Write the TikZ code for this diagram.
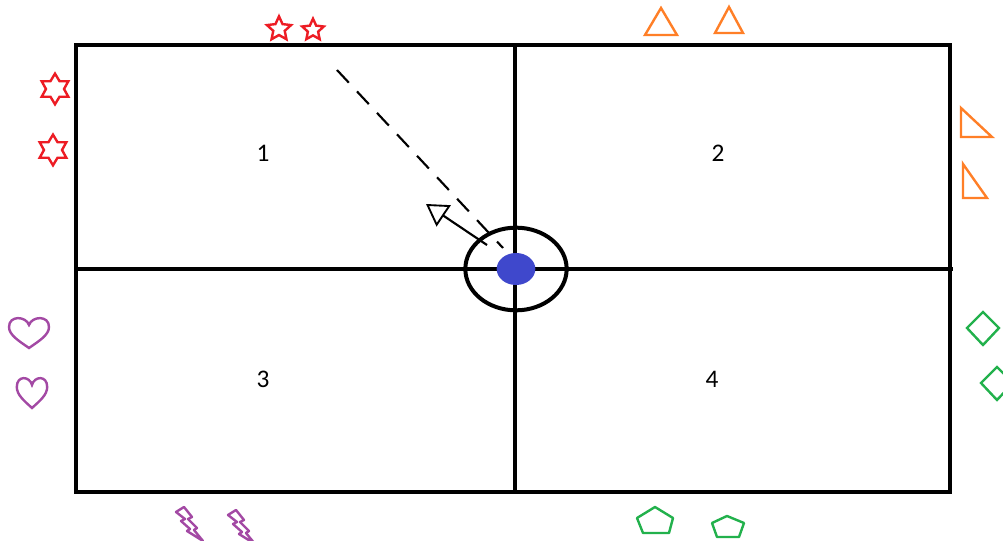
\documentclass[tikz,border=0pt]{standalone}
\usepackage{fontspec}
\setmainfont{Carlito}
\usetikzlibrary{shapes.geometric,arrows.meta}
\definecolor{pred}{HTML}{ED1C24}
\definecolor{porange}{HTML}{FF7F27}
\definecolor{ppurple}{HTML}{A349A4}
\definecolor{pgreen}{HTML}{22B14C}
\definecolor{pblue}{HTML}{3F48CC}
\tikzset{
  court/.style={line width=3pt, black},
  mark5/.style={draw=pred, line width=1.8pt, star, star points=5, star point ratio=2.1, minimum size=19pt, inner sep=0pt},
  mark6/.style={draw=pred, line width=1.8pt, star, star points=6, star point ratio=1.7, minimum size=23pt, inner sep=0pt},
  tri/.style={draw=porange, line width=1.8pt, line join=miter},
  heart/.style={draw=ppurple, line width=1.8pt},
  bolt/.style={draw=ppurple, line width=1.8pt, line join=round},
  dia/.style={draw=pgreen, line width=1.8pt},
  penta/.style={draw=pgreen, line width=1.8pt, line join=round},
  zone/.style={font=\fontsize{19}{19}\selectfont},
}
\begin{document}
\begin{tikzpicture}[x=0.75pt,y=-0.75pt]
\useasboundingbox[fill=white] (0,0) rectangle (1003,541);
% court
\coordinate (tl) at (76,45);
\coordinate (br) at (950,492);
\coordinate (tm) at (515,45);
\coordinate (bm) at (515,492);
\coordinate (ml) at (76,269);
\coordinate (mr) at (953,269);
\draw[court] (tl) rectangle (br);
\draw[court] (tm) -- (bm);
\draw[court] (ml) -- (mr);
% centre
\node[draw, line width=3pt, ellipse, minimum width=76pt, minimum height=62pt, inner sep=0pt] (ring) at (516,269) {};
\node[fill=pblue, ellipse, minimum width=29pt, minimum height=24pt, inner sep=0pt] (ball) at (516,269) {};
% zone labels
\node[zone] (z1) at (263,153) {1};
\node[zone] (z2) at (718,153) {2};
\node[zone] (z3) at (263,379) {3};
\node[zone] (z4) at (712,379) {4};
% dashed trajectory and arrow
\coordinate (ds) at (337,70);
\coordinate (de) at (503,248);
\draw[line width=1.6pt, dash pattern=on 13pt off 9pt] (ds) -- (de);
\coordinate (as) at (487,245);
\coordinate (ae) at (426,204);
\draw[line width=1.6pt, -{Triangle[open, length=16pt, width=19pt, line width=1.4pt]}] (as) -- (ae);
% red stars
\node[mark5] (s1) at (279,29) {};
\node[mark5, minimum size=17pt] (s2) at (313,30) {};
\node[mark6] (s3) at (55,89) {};
\node[mark6] (s4) at (53,150) {};
% orange triangles
\draw[tri] (661,8) -- (677,35) -- (645,35) -- cycle;
\draw[tri] (729,7) -- (743,33) -- (715,33) -- cycle;
\draw[tri] (961,108) -- (992,137) -- (961,137) -- cycle;
\draw[tri] (963,164) -- (987,198) -- (963,198) -- cycle;
% purple hearts
\foreach \cx/\cy/\sx in {29/333/1, 32/393/0.76}{
  \begin{scope}[shift={(\cx,\cy)}, xscale=\sx]
    \draw[heart] (0,15) .. controls (-10,8) and (-20,2) .. (-20,-6)
      .. controls (-20,-18) and (-3,-17) .. (0,-8)
      .. controls (3,-17) and (20,-18) .. (20,-6)
      .. controls (20,2) and (10,8) .. (0,15) -- cycle;
  \end{scope}
}
% purple bolts
\foreach \dx/\dy in {0/0, 52/3}{
  \begin{scope}[shift={(\dx,\dy)}]
    \draw[bolt] (176,512) -- (184,507) -- (192,517) -- (188,519) -- (197,528)
      -- (194,530) -- (203,541) -- (187,531) -- (190,529) -- (181,521) -- (185,519) -- cycle;
  \end{scope}
}
% green diamonds
\draw[dia] (983,312) -- (999,328) -- (983,345) -- (967,328) -- cycle;
\draw[dia] (997,367) -- (1013,383) -- (997,400) -- (981,383) -- cycle;
% green pentagons
\draw[penta] (655,507) -- (673,518) -- (669,533) -- (643,533) -- (637,518) -- cycle;
\draw[penta] (727,516) -- (744,523) -- (739,537) -- (717,537) -- (712,523) -- cycle;
\end{tikzpicture}
\end{document}
